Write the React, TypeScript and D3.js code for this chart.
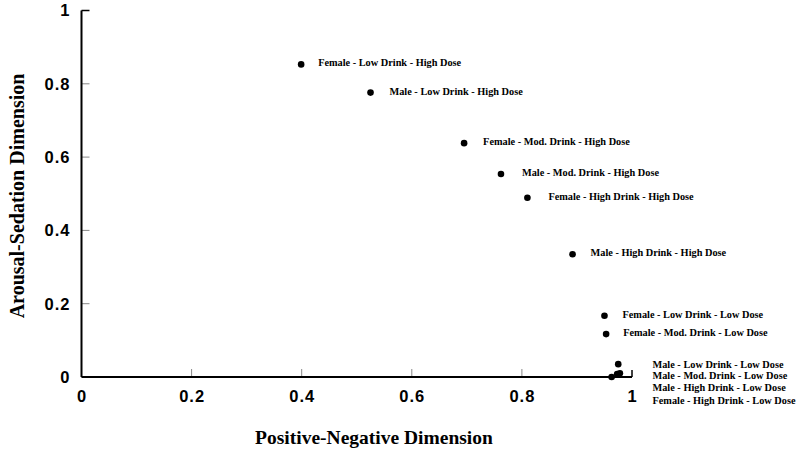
import React from "react";
import * as d3 from "d3";

const labels = [
  "Female - Low Drink - High Dose",
  "Male - Low Drink - High Dose",
  "Female - Mod. Drink - High Dose",
  "Male - Mod. Drink - High Dose",
  "Female - High Drink - High Dose",
  "Male - High Drink - High Dose",
  "Female - Low Drink - Low Dose",
  "Female - Mod. Drink - Low Dose",
  "Male - Low Drink - Low Dose",
  "Male - Mod. Drink - Low Dose",
  "Male - High Drink - Low Dose",
  "Female - High Drink - Low Dose",
];
const posNeg = [0.399, 0.525, 0.695, 0.762, 0.81, 0.892, 0.95, 0.953, 0.975, 0.978, 0.973, 0.963];
const arousal = [0.853, 0.776, 0.638, 0.554, 0.489, 0.335, 0.167, 0.117, 0.035, 0.01, 0.008, 0.0];
const tickValues = [0, 0.2, 0.4, 0.6, 0.8, 1];
const xTitle = "Positive-Negative Dimension";
const yTitle = "Arousal-Sedation Dimension";

const W = 800;
const H = 452;
const x = d3.scaleLinear().domain([0, 1]).range([81.5, 632]);
const y = d3.scaleLinear().domain([0, 1]).range([377, 10.5]);

// label layout: first 8 beside their points, last 4 stacked to the right of the cluster
const labelDx = [17, 19, 19, 21, 21, 18, 18, 17];
const stackX = 652.5;
const stackY = [364.5, 375.5, 387.5, 400.5];

const sans = "'Liberation Sans', Arial, sans-serif";
const serif = "'Liberation Serif', 'Times New Roman', serif";

export default function App() {
  const fmt = (v: number) => (v === 0 || v === 1 ? String(v) : d3.format(".1f")(v));
  return (
    <svg
      width={W}
      height={H}
      style={{ position: "absolute", left: 0, top: 0, background: "#fff" }}
    >
      <rect width={W} height={H} fill="#fff" />
      {tickValues.map((t) => (
        <line
          key={"yt" + t}
          x1={x(0)}
          x2={x(0) + 8}
          y1={y(t)}
          y2={y(t)}
          stroke={t === 1 ? "#000" : "#888"}
          strokeWidth={t === 1 ? 1.5 : 1}
        />
      ))}
      {tickValues.map((t) => (
        <line
          key={"xt" + t}
          x1={x(t)}
          x2={x(t)}
          y1={y(0)}
          y2={y(0) - (t === 1 ? 7 : 8)}
          stroke={t === 1 ? "#000" : "#888"}
          strokeWidth={t === 1 ? 1.5 : 1}
        />
      ))}
      <line x1={x(0)} x2={x(0)} y1={y(1)} y2={y(0)} stroke="#000" strokeWidth={2} />
      <line x1={x(0)} x2={x(1)} y1={y(0)} y2={y(0)} stroke="#000" strokeWidth={2} />
      {tickValues.map((t) => (
        <text
          key={"yl" + t}
          x={70.5}
          y={y(t)}
          dy="0.36em"
          textAnchor="end"
          fontFamily={sans}
          fontWeight="bold"
          fontSize={16.5}
          letterSpacing={1}
        >
          {fmt(t)}
        </text>
      ))}
      {tickValues.map((t) => (
        <text
          key={"xl" + t}
          x={x(t) + 0.5}
          y={396.5}
          dy="0.36em"
          textAnchor="middle"
          fontFamily={sans}
          fontWeight="bold"
          fontSize={16.5}
          letterSpacing={1}
        >
          {fmt(t)}
        </text>
      ))}
      <text
        x={374}
        y={437}
        dy="0.35em"
        textAnchor="middle"
        fontFamily={serif}
        fontWeight="bold"
        fontSize={19.5}
      >
        {xTitle}
      </text>
      <text
        transform={`translate(17,196) rotate(-90)`}
        dy="0.35em"
        textAnchor="middle"
        fontFamily={serif}
        fontWeight="bold"
        fontSize={20}
      >
        {yTitle}
      </text>
      {posNeg.map((v, i) => (
        <circle key={"p" + i} cx={x(v)} cy={y(arousal[i])} r={3.3} fill="#000" />
      ))}
      {labels.map((lab, i) => {
        const lx = i < 8 ? x(posNeg[i]) + labelDx[i] : stackX;
        const ly = i < 8 ? y(arousal[i]) - 1.5 : stackY[i - 8];
        return (
          <text
            key={"l" + i}
            x={lx}
            y={ly}
            dy="0.35em"
            fontFamily={serif}
            fontWeight="bold"
            fontSize={10.3}
          >
            {lab}
          </text>
        );
      })}
    </svg>
  );
}
